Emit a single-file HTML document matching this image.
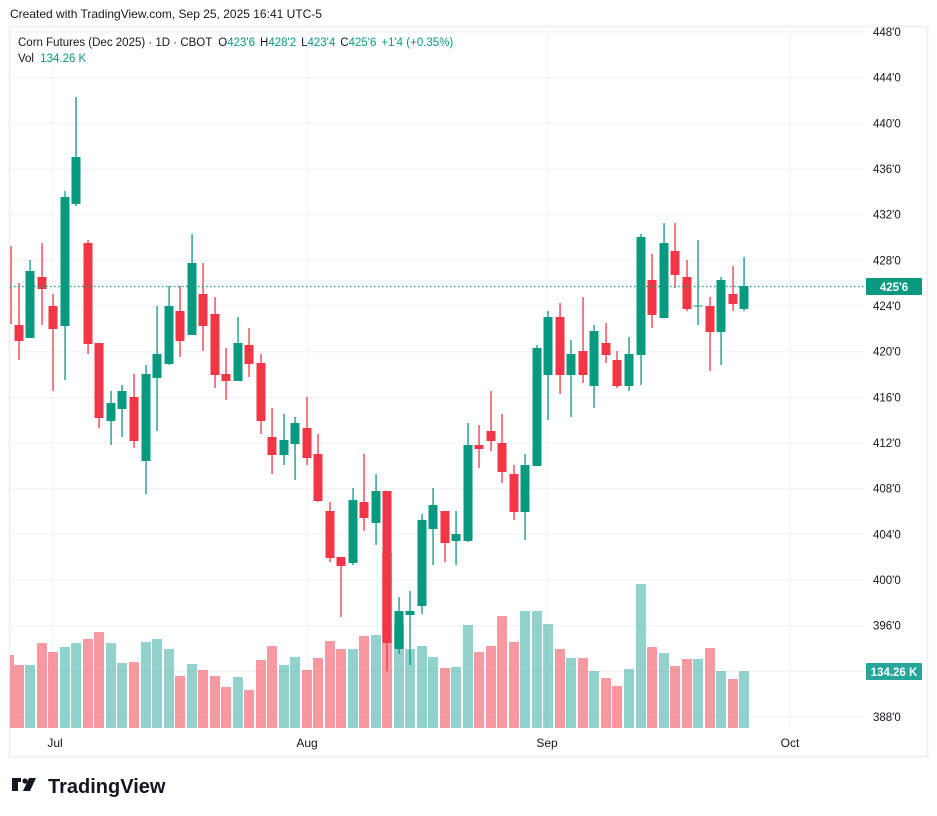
<!DOCTYPE html>
<html><head><meta charset="utf-8"><style>
body{margin:0;background:#fff;width:937px;height:816px;overflow:hidden;font-family:"Liberation Sans",sans-serif}
svg{position:absolute;left:0;top:0}
</style></head><body>
<svg id="s" width="937" height="816" xmlns="http://www.w3.org/2000/svg" font-family="Liberation Sans, sans-serif">
<text x="10" y="18" font-size="12" fill="#131722">Created with TradingView.com, Sep 25, 2025 16:41 UTC-5</text>
<rect x="9.5" y="26.5" width="918" height="730" fill="#fff" stroke="#eeeeee" stroke-width="1.5"/>
<g id="grid"></g>
<g id="vol" opacity="0.5"></g>
<g id="cdl"></g>
<line x1="10" y1="286.5" x2="865" y2="286.5" stroke="#089981" stroke-width="1.2" stroke-dasharray="1.5 2.5"/>
<rect x="866" y="278" width="56" height="17" fill="#089981" rx="1"/>
<text x="894" y="291" font-size="11.5" fill="#fff" text-anchor="middle" font-weight="bold">425'6</text>
<rect x="866" y="663" width="56" height="17" fill="#26a69a" rx="1"/>
<text x="894" y="676" font-size="11.5" fill="#fff" text-anchor="middle" font-weight="bold">134.26 K</text>
<g font-size="12" fill="#131722" text-anchor="middle">
<text x="55" y="747">Jul</text><text x="307" y="747">Aug</text><text x="547" y="747">Sep</text><text x="790" y="747">Oct</text>
</g>
<text x="18" y="46" font-size="11.5" fill="#131722">Corn Futures (Dec 2025) · 1D · CBOT <tspan dx="3">O</tspan><tspan fill="#089981">423'6</tspan><tspan dx="5">H</tspan><tspan fill="#089981">428'2</tspan><tspan dx="5">L</tspan><tspan fill="#089981">423'4</tspan><tspan dx="5">C</tspan><tspan fill="#089981">425'6</tspan><tspan dx="5" fill="#089981">+1'4 (+0.35%)</tspan></text>
<text x="18" y="62" font-size="11.5" fill="#131722">Vol <tspan dx="3" fill="#089981">134.26 K</tspan></text>
<g fill="#131722">
<path d="M12 778h9v4h-3v9h-6v-9h-0z M12 778 h9 v4 h-9z"/>
<circle cx="25" cy="781" r="2.6"/>
<path d="M29 778h7l-6 13h-7z"/>
</g>
<text x="48" y="793" font-size="20" font-weight="bold" fill="#131722">TradingView</text>
</svg>
<script>
const NS="http://www.w3.org/2000/svg";
function el(p,t,a){const e=document.createElementNS(NS,t);for(const k in a)e.setAttribute(k,a[k]);document.getElementById(p).appendChild(e);return e;}
// grid
const labs=["448'0","444'0","440'0","436'0","432'0","428'0","424'0","420'0","416'0","412'0","408'0","404'0","400'0","396'0","392'0","388'0"];
labs.forEach((l,i)=>{const y=32+i*45.67;
 el("grid","line",{x1:10,x2:865,y1:y,y2:y,stroke:"#f0f0f0","stroke-width":1});
 if(l!=="392'0"){const t=el("grid","text",{x:873,y:y+4,"font-size":11.5,fill:"#131722"});t.textContent=l;}
});
[53,307,547,790].forEach(x=>el("grid","line",{x1:x,x2:x,y1:27,y2:728,stroke:"#f0f0f0","stroke-width":1}));
const G="#089981",R="#f23645";
const c=[[11,R,246,246,324,324],[19,R,283,325,341,360],[30,G,260,271,338,338],[42,R,243,277,289,325],[53,R,294,306,329,391],[65,G,191,197,326,380],[76,G,97,157,204,206],[88,R,240,243,344,354],[99,R,343,343,418,428],[111,G,391,403,421,445],[122,G,385,391,409,437],[134,R,374,397,441,448],[146,G,365,374,461,494],[157,G,306,354,378,431],[169,G,286,306,364,365],[180,R,286,311,341,357],[192,G,234,263,335,335],[203,R,263,294,326,351],[215,R,297,314,375,388],[226,R,348,374,381,400],[238,G,317,343,381,381],[249,R,328,345,364,377],[261,R,354,363,421,434],[272,R,408,437,455,474],[284,G,414,440,455,465],[295,G,417,423,444,480],[307,R,397,428,458,465],[318,R,434,454,501,502],[330,R,502,511,558,562],[341,R,557,557,566,617],[353,G,488,500,563,565],[364,R,454,502,518,531],[376,G,474,491,523,545],[387,R,491,491,643,671],[399,G,597,611,649,654],[410,G,591,611,615,665],[422,G,514,520,606,614],[433,G,488,505,529,565],[445,R,511,511,543,562],[456,G,511,534,541,565],[468,G,423,445,541,542],[479,R,425,445,449,468],[491,R,391,431,441,451],[502,R,414,443,472,483],[514,R,465,474,512,520],[525,G,454,465,512,540],[537,G,345,348,466,466],[548,G,311,317,375,420],[560,R,303,317,375,394],[571,G,340,354,375,417],[583,R,297,351,375,383],[594,G,325,331,386,408],[606,R,323,343,355,363],[617,R,351,360,386,388],[629,G,337,354,386,391],[641,G,234,237,355,385],[652,R,254,280,315,328],[664,G,223,243,318,318],[675,R,223,251,275,288],[687,R,260,277,309,311],[698,G,240,305.5,306.5,325],[710,R,297,306,332,371],[721,G,277,280,332,365],[733,R,266,294,304,311],[744,G,257,286,309,311]];
const v=[655,665,665,643,652,647,643,639,632,643,663,662,642,639,649,676,664,670,676,687,677,690,660,646,665,657,670,658,641,649,649,636,635,553,623,649,646,657,668,667,625,652,646,616,642,611,611,624,649,658,658,671,678,686,669,584,647,653,666,659,659,648,671,679,671];
c.forEach((d,i)=>{const [x,col]=d;
 const vx=i===0?10:x-5, vw=i===0?4:10;
 el("vol","rect",{x:vx,y:v[i],width:vw,height:728-v[i],fill:col===G?"#26a69a":"#f23645"});
});
c.forEach((d,i)=>{const [x,col,wt,bt,bb,wb]=d;
 el("cdl","rect",{x:x-0.6,y:wt,width:1.3,height:wb-wt,fill:col});
 if(i>0) el("cdl","rect",{x:x-4.5,y:bt,width:9,height:Math.max(1,bb-bt),fill:col});
});
</script>
</body></html>
